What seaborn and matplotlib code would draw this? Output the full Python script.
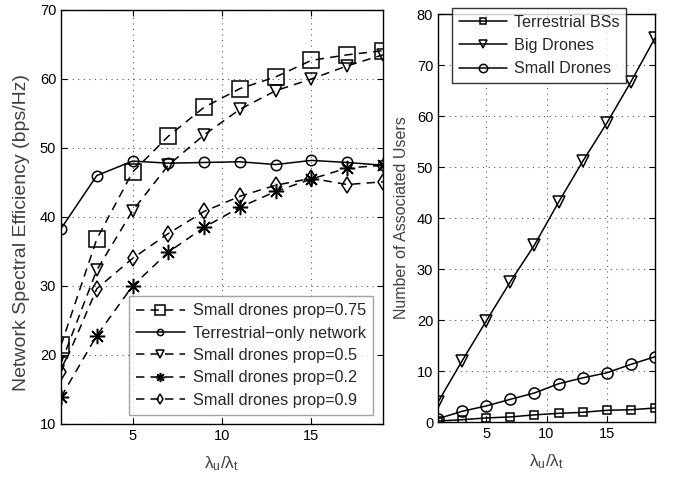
import numpy as np
import pandas as pd
import matplotlib
matplotlib.use("Agg")
import matplotlib.pyplot as plt
import seaborn as sns

# ratio of user density to terrestrial BS density
ratio = [1, 3, 5, 7, 9, 11, 13, 15, 17, 19]

# network spectral efficiency (bps/Hz)
se_prop075 = [21.4, 36.8, 46.5, 51.7, 55.9, 58.6, 60.3, 62.7, 63.5, 64.1]
se_terrestrial = [38.3, 46.0, 48.1, 47.8, 47.9, 48.0, 47.6, 48.2, 47.9, 47.5]
se_prop05 = [18.8, 32.3, 40.9, 47.5, 51.9, 55.6, 58.3, 60.0, 61.9, 63.5]
se_prop02 = [13.9, 22.8, 30.0, 34.9, 38.5, 41.4, 43.7, 45.5, 47.1, 47.5]
se_prop09 = [17.5, 29.6, 34.0, 37.6, 40.8, 43.0, 44.6, 45.6, 44.7, 45.1]

# number of associated users per tier
users_terrestrial = [0.2, 0.45, 0.8, 1.0, 1.4, 1.7, 1.9, 2.3, 2.4, 2.75]
users_big = [3.9, 12.0, 19.8, 27.5, 34.7, 43.1, 51.1, 58.6, 66.7, 75.3]
users_small = [0.65, 2.1, 3.15, 4.45, 5.7, 7.5, 8.65, 9.65, 11.3, 12.8]

sns.set_style("ticks")
plt.rcParams["font.family"] = ["Liberation Sans", "DejaVu Sans"]
plt.rcParams["mathtext.fontset"] = "custom"
plt.rcParams["mathtext.rm"] = "Liberation Sans"

fig = plt.figure(figsize=(6.83, 4.80), dpi=100)
ax1 = fig.add_axes([0.0893, 0.1167, 0.4714, 0.8625])
ax2 = fig.add_axes([0.6413, 0.1208, 0.3177, 0.8500])

common = dict(color="k", linewidth=1.1, markerfacecolor="none",
              markeredgecolor="k", markeredgewidth=1.1)
dash = (0, (5.5, 4))

left_series = [
    ("Small drones prop=0.75", se_prop075, "s", 11, dash),
    ("Terrestrial\u2212only network", se_terrestrial, "o", 7.5, "-"),
    ("Small drones prop=0.5", se_prop05, "v", 8.5, dash),
    ("Small drones prop=0.2", se_prop02, (8, 2, 0), 11, dash),
    ("Small drones prop=0.9", se_prop09, "d", 8.5, dash),
]
for label, vals, mk, ms, ls in left_series:
    sns.lineplot(x=ratio, y=vals, ax=ax1, marker=mk, markersize=ms,
                 linestyle=ls, label=label, **common)

right_series = [
    ("Terrestrial BSs", users_terrestrial, "s", 5.5),
    ("Big Drones", users_big, "v", 8.5),
    ("Small Drones", users_small, "o", 8),
]
for label, vals, mk, ms in right_series:
    sns.lineplot(x=ratio, y=vals, ax=ax2, marker=mk, markersize=ms,
                 linestyle="-", label=label, **common)

for ax in (ax1, ax2):
    ax.set_xlim(1, 19)
    ax.set_xticks([5, 10, 15])
    ax.grid(True, linestyle=(0, (1, 4)), color="0.35", linewidth=0.8)
    ax.tick_params(direction="in", top=True, right=True, length=4,
                   width=0.8, labelsize=10.5, colors="k")
    for sp in ax.spines.values():
        sp.set_visible(True)
        sp.set_linewidth(1.0)
        sp.set_color("k")
    ax.set_xlabel(r"$\mathrm{λ_u/λ_t}$", fontsize=12.5, color="0.25", labelpad=8)

ax1.set_ylim(10, 70)
ax1.set_yticks(range(10, 71, 10))
ax1.set_ylabel("Network Spectral Efficiency (bps/Hz)", fontsize=14,
               color="0.25")
ax1.yaxis.set_label_coords(-0.095, 0.462)

ax2.set_ylim(0, 80)
ax2.set_yticks(range(0, 81, 10))
ax2.set_ylabel("Number of Associated Users", fontsize=11.5, color="0.25")
ax2.yaxis.set_label_coords(-0.135, 0.5)

leg1 = ax1.legend(loc="lower left", bbox_to_anchor=(0.21, 0.022),
                  fontsize=11.7, handlelength=3.0, markerscale=0.6,
                  frameon=True, fancybox=False, borderaxespad=0,
                  labelspacing=0.45, handletextpad=0.5, borderpad=0.45)
leg1.get_frame().set_edgecolor("0.55")
leg1.get_frame().set_linewidth(1.0)

leg2 = ax2.legend(loc="upper left", bbox_to_anchor=(0.065, 1.014),
                  fontsize=11.6, handlelength=3.0, markerscale=0.75,
                  frameon=True, fancybox=False, borderaxespad=0,
                  labelspacing=0.5, handletextpad=0.4, borderpad=0.42)
leg2.get_frame().set_edgecolor("k")
leg2.get_frame().set_linewidth(1.0)

fig.savefig("out.png", dpi=100)
